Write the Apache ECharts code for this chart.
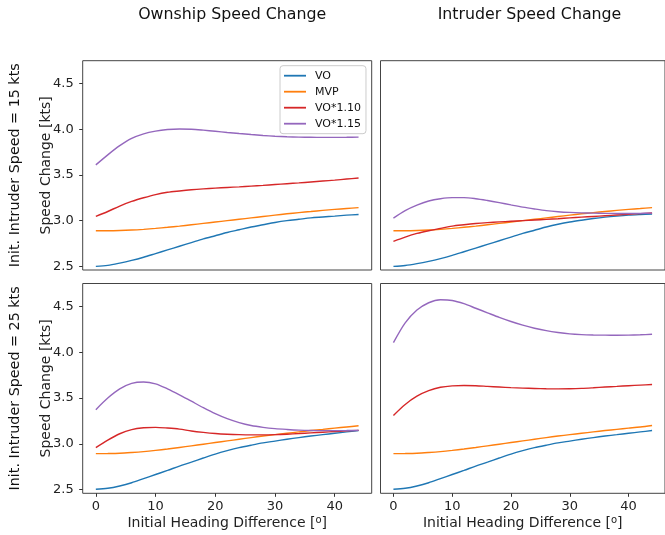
<!DOCTYPE html>
<html>
<head>
<meta charset="utf-8">
<script src="https://cdn.jsdelivr.net/npm/echarts@6/dist/echarts.min.js"></script>
<style>html,body{margin:0;padding:0;background:#fff}#c{width:665px;height:535px}</style>
</head>
<body>
<div id="c"></div>
<script>
// Heading difference (degrees)
var heading = [0,2,4,6,8,10,12,14,16,18,20,22,24,26,28,30,32,34,36,38,40,42,44];
var seriesNames = ['VO','MVP','VO*1.10','VO*1.15'];
var colTitles = ['Ownship Speed Change','Intruder Speed Change'];
var rowLabels = ['Init. Intruder Speed = 15 kts','Init. Intruder Speed = 25 kts'];
var xTicks = [0,10,20,30,40];
var yTicks = [2.5,3.0,3.5,4.0,4.5];

// Top-left: ownship, intruder 15 kts
var tl_VO   = [2.50,2.51,2.535,2.565,2.60,2.64,2.68,2.72,2.76,2.80,2.835,2.87,2.90,2.93,2.955,2.98,3.00,3.015,3.03,3.04,3.05,3.06,3.068];
var tl_MVP  = [2.89,2.89,2.892,2.897,2.905,2.915,2.927,2.94,2.955,2.97,2.985,3.00,3.015,3.03,3.045,3.06,3.075,3.088,3.10,3.112,3.123,3.133,3.143];
var tl_V110 = [3.046,3.10,3.16,3.21,3.25,3.285,3.31,3.325,3.338,3.348,3.356,3.363,3.37,3.378,3.386,3.395,3.404,3.413,3.423,3.433,3.443,3.455,3.467];
var tl_V115 = [3.61,3.72,3.82,3.90,3.95,3.98,3.997,4.003,4.00,3.99,3.978,3.965,3.953,3.942,3.932,3.924,3.918,3.914,3.912,3.911,3.911,3.912,3.914];

// Top-right: intruder, intruder 15 kts
var tr_VO   = [2.50,2.51,2.53,2.555,2.585,2.62,2.66,2.70,2.74,2.78,2.82,2.86,2.895,2.93,2.96,2.985,3.005,3.023,3.038,3.05,3.06,3.067,3.073];
var tr_MVP  = [2.89,2.89,2.892,2.897,2.905,2.915,2.927,2.94,2.955,2.97,2.985,3.00,3.015,3.03,3.045,3.06,3.075,3.088,3.10,3.112,3.123,3.133,3.143];
var tr_V110 = [2.773,2.82,2.86,2.89,2.915,2.94,2.955,2.968,2.978,2.986,2.993,3.00,3.007,3.014,3.021,3.03,3.038,3.046,3.054,3.062,3.07,3.077,3.083];
var tr_V115 = [3.028,3.11,3.17,3.215,3.24,3.252,3.252,3.24,3.22,3.197,3.172,3.148,3.128,3.11,3.098,3.09,3.085,3.082,3.08,3.079,3.079,3.08,3.082];

// Bottom-left: ownship, intruder 25 kts
var bl_VO   = [2.505,2.515,2.54,2.575,2.62,2.665,2.71,2.757,2.80,2.845,2.888,2.925,2.958,2.985,3.01,3.03,3.05,3.068,3.085,3.10,3.115,3.13,3.145];
var bl_MVP  = [2.893,2.894,2.897,2.905,2.915,2.928,2.943,2.96,2.978,2.996,3.014,3.032,3.05,3.068,3.085,3.10,3.115,3.13,3.145,3.158,3.171,3.184,3.197];
var bl_V110 = [2.958,3.04,3.11,3.155,3.175,3.18,3.172,3.16,3.14,3.125,3.113,3.105,3.10,3.098,3.098,3.10,3.105,3.112,3.12,3.127,3.134,3.141,3.147];
var bl_V115 = [3.373,3.50,3.60,3.66,3.675,3.655,3.60,3.535,3.465,3.395,3.33,3.275,3.232,3.20,3.18,3.166,3.157,3.15,3.146,3.144,3.144,3.145,3.147];

// Bottom-right: intruder, intruder 25 kts
var br_VO   = [2.505,2.515,2.54,2.575,2.62,2.665,2.71,2.757,2.80,2.845,2.888,2.925,2.958,2.985,3.01,3.03,3.05,3.068,3.085,3.10,3.115,3.13,3.145];
var br_MVP  = [2.893,2.894,2.897,2.905,2.915,2.928,2.943,2.96,2.978,2.996,3.014,3.032,3.05,3.068,3.085,3.10,3.115,3.13,3.145,3.158,3.171,3.184,3.2];
var br_V110 = [3.31,3.43,3.52,3.58,3.617,3.633,3.637,3.634,3.627,3.62,3.613,3.608,3.604,3.601,3.60,3.601,3.605,3.612,3.62,3.627,3.634,3.641,3.648];
var br_V115 = [4.104,4.32,4.46,4.54,4.572,4.565,4.53,4.48,4.43,4.38,4.335,4.295,4.262,4.235,4.215,4.20,4.192,4.188,4.186,4.185,4.186,4.19,4.196];

var panels = [
  [tl_VO, tl_MVP, tl_V110, tl_V115],
  [tr_VO, tr_MVP, tr_V110, tr_V115],
  [bl_VO, bl_MVP, bl_V110, bl_V115],
  [br_VO, br_MVP, br_V110, br_V115]
];
var colors = ['#1f77b4','#ff7f0e','#d62728','#9467bd'];
var FONT = 'DejaVu Sans';

var grids = [
  {left: 82.7, top: 60.7, width: 289, height: 209.3},
  {left: 380.5, top: 60.7, width: 289, height: 209.3},
  {left: 82.7, top: 283.5, width: 289, height: 209.8},
  {left: 380.5, top: 283.5, width: 289, height: 209.8}
];
grids.forEach(function(g){ g.show = true; g.borderColor = '#444'; g.borderWidth = 1; g.backgroundColor = '#fff'; });

var xAxes = [], yAxes = [], series = [];
for (var p = 0; p < 4; p++) {
  var isBottom = p >= 2, isLeft = (p % 2) === 0;
  xAxes.push({
    type: 'value', gridIndex: p, min: -2.2, max: 46.2, position: 'bottom',
    splitLine: {show: false},
    axisLine: {show: false, onZero: false},
    axisTick: {show: isBottom, customValues: xTicks, length: 3.5, lineStyle: {color: '#333'}},
    axisLabel: {show: isBottom, customValues: xTicks, fontFamily: FONT, fontSize: 13, color: '#222', margin: 7},
    name: isBottom ? 'Initial Heading Difference [{s|o}]' : '',
    nameLocation: 'middle', nameGap: 22, nameMoveOverlap: false,
    nameTextStyle: {fontFamily: FONT, fontSize: 14, color: '#222', verticalAlign: 'top',
      rich: {s: {fontFamily: FONT, fontSize: 10, color: '#222', verticalAlign: 'top', padding: [0,0,6,0]}}}
  });
  yAxes.push({
    type: 'value', gridIndex: p, min: 2.46, max: 4.75, position: 'left',
    splitLine: {show: false},
    axisLine: {show: false, onZero: false},
    axisTick: {show: isLeft, customValues: yTicks, length: 3.5, lineStyle: {color: '#333'}},
    axisLabel: {show: isLeft, customValues: yTicks, fontFamily: FONT, fontSize: 13, color: '#222', margin: 9,
      formatter: function(v){ return v.toFixed(1); }},
    name: isLeft ? 'Speed Change [kts]' : '',
    nameLocation: 'middle', nameGap: 29, nameRotate: 90, nameMoveOverlap: false,
    nameTextStyle: {fontFamily: FONT, fontSize: 14, color: '#222', verticalAlign: 'bottom'}
  });
  for (var s = 0; s < 4; s++) {
    var vals = panels[p][s];
    series.push({
      type: 'line', name: seriesNames[s], xAxisIndex: p, yAxisIndex: p,
      data: heading.map(function(h, i){ return [h, vals[i]]; }),
      showSymbol: false, symbol: 'none', smooth: 0.3,
      lineStyle: {width: 1.4, color: colors[s]}, itemStyle: {color: colors[s]},
      emphasis: {disabled: true}, animation: false, z: 2
    });
  }
}

var option = {
  animation: false,
  backgroundColor: '#fff',
  textStyle: {fontFamily: FONT},
  title: [
    {text: colTitles[0], left: 227.2, top: 2, textAlign: 'center', textStyle: {fontFamily: FONT, fontSize: 15.8, fontWeight: 'normal', color: '#111'}},
    {text: colTitles[1], left: 524.5, top: 2, textAlign: 'center', textStyle: {fontFamily: FONT, fontSize: 15.8, fontWeight: 'normal', color: '#111'}}
  ],
  legend: {
    data: seriesNames, orient: 'vertical', left: 280, top: 65.7,
    icon: 'rect', itemWidth: 22, itemHeight: 1.8, itemGap: 0,
    padding: [2, 5, 2, 4],
    borderColor: '#ccc', borderWidth: 1, borderRadius: 3, backgroundColor: 'rgba(255,255,255,0.85)',
    textStyle: {fontFamily: FONT, fontSize: 11, color: '#111', lineHeight: 16, padding: [0,0,0,4]},
    z: 10
  },
  grid: grids,
  xAxis: xAxes,
  yAxis: yAxes,
  series: series,
  graphic: [
    {type: 'text', x: 15, y: 165.3, rotation: Math.PI/2,
     style: {text: rowLabels[0], font: '14.3px "DejaVu Sans"', fill: '#111', align: 'center', verticalAlign: 'middle'}},
    {type: 'text', x: 15, y: 388.4, rotation: Math.PI/2,
     style: {text: rowLabels[1], font: '14.3px "DejaVu Sans"', fill: '#111', align: 'center', verticalAlign: 'middle'}}
  ]
};
var chart = echarts.init(document.getElementById('c'), null, {renderer: 'canvas'});
chart.setOption(option);
</script>
</body>
</html>
